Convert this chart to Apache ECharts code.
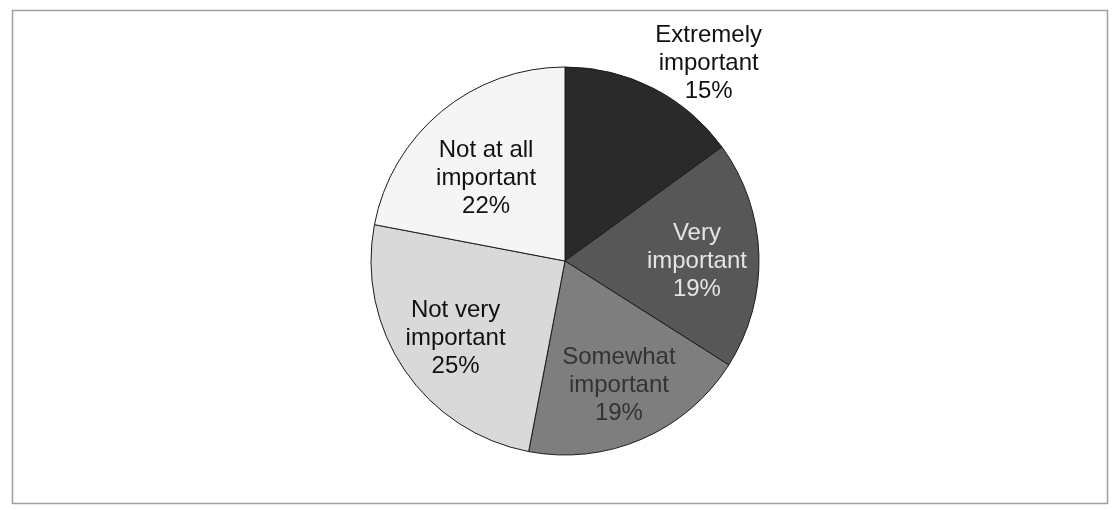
<!DOCTYPE html>
<html>
<head>
<meta charset="utf-8">
<title>Importance ratings</title>
<script src="https://cdn.jsdelivr.net/npm/echarts@6/dist/echarts.min.js"></script>
<style>
  html, body { margin: 0; padding: 0; background: #ffffff; }
  #chart { width: 1113px; height: 510px; }
</style>
</head>
<body>
<div id="chart"></div>
<script>
// Survey answers: how important is it?
const categories = [
  'Extremely important',
  'Very important',
  'Somewhat important',
  'Not very important',
  'Not at all important'
];
// Two-line wording used in the slice labels
const labelNames = [
  'Extremely\nimportant',
  'Very\nimportant',
  'Somewhat\nimportant',
  'Not very\nimportant',
  'Not at all\nimportant'
];
const shares = [15, 19, 19, 25, 22];

// Greyscale fills, darkest for the strongest answer
const sliceColors = ['#2a2a2a', '#575757', '#7e7e7e', '#d9d9d9', '#f5f5f5'];
const labelColors = ['#111111', '#e4e4e4', '#333333', '#111111', '#111111'];

// Pie geometry
const CX = 565, CY = 261, R = 194;
// Label placement: distance from centre as a fraction of the radius,
// and a small angular nudge (degrees) from each slice's mid angle.
const labelDist = [1.26, 0.68, 0.70, 0.69, 0.59];
const labelNudge = [9, 2, 0, -1, -4];

const total = shares.reduce((a, b) => a + b, 0);
const midAngles = [];
let acc = 0;
shares.forEach(v => {
  midAngles.push((acc + v / 2) / total * 360);
  acc += v;
});

const chart = echarts.init(document.getElementById('chart'), null, { renderer: 'canvas' });

chart.setOption({
  backgroundColor: '#ffffff',
  animation: false,
  graphic: [{
    type: 'rect',
    shape: { x: 12.5, y: 10.5, width: 1095, height: 493 },
    style: { fill: 'none', stroke: '#a0a0a0', lineWidth: 1.5 },
    silent: true
  }],
  series: [{
    type: 'pie',
    center: [CX, CY],
    radius: [0, R],
    startAngle: 90,
    clockwise: true,
    avoidLabelOverlap: false,
    itemStyle: { borderColor: '#1c1c1c', borderWidth: 1 },
    label: {
      show: true,
      position: 'inside',
      fontFamily: 'Liberation Sans, Arial, sans-serif',
      fontSize: 24,
      lineHeight: 28,
      align: 'center',
      formatter: p => labelNames[p.dataIndex] + '\n' + p.value + '%'
    },
    labelLine: { show: false },
    labelLayout: params => {
      const i = params.dataIndex;
      const a = (midAngles[i] + labelNudge[i]) * Math.PI / 180;
      const d = labelDist[i] * R;
      return {
        x: CX + d * Math.sin(a),
        y: CY - d * Math.cos(a),
        align: 'center',
        verticalAlign: 'middle'
      };
    },
    data: categories.map((name, i) => ({
      name: name,
      value: shares[i],
      itemStyle: { color: sliceColors[i] },
      label: { color: labelColors[i] }
    }))
  }]
});
</script>
</body>
</html>
